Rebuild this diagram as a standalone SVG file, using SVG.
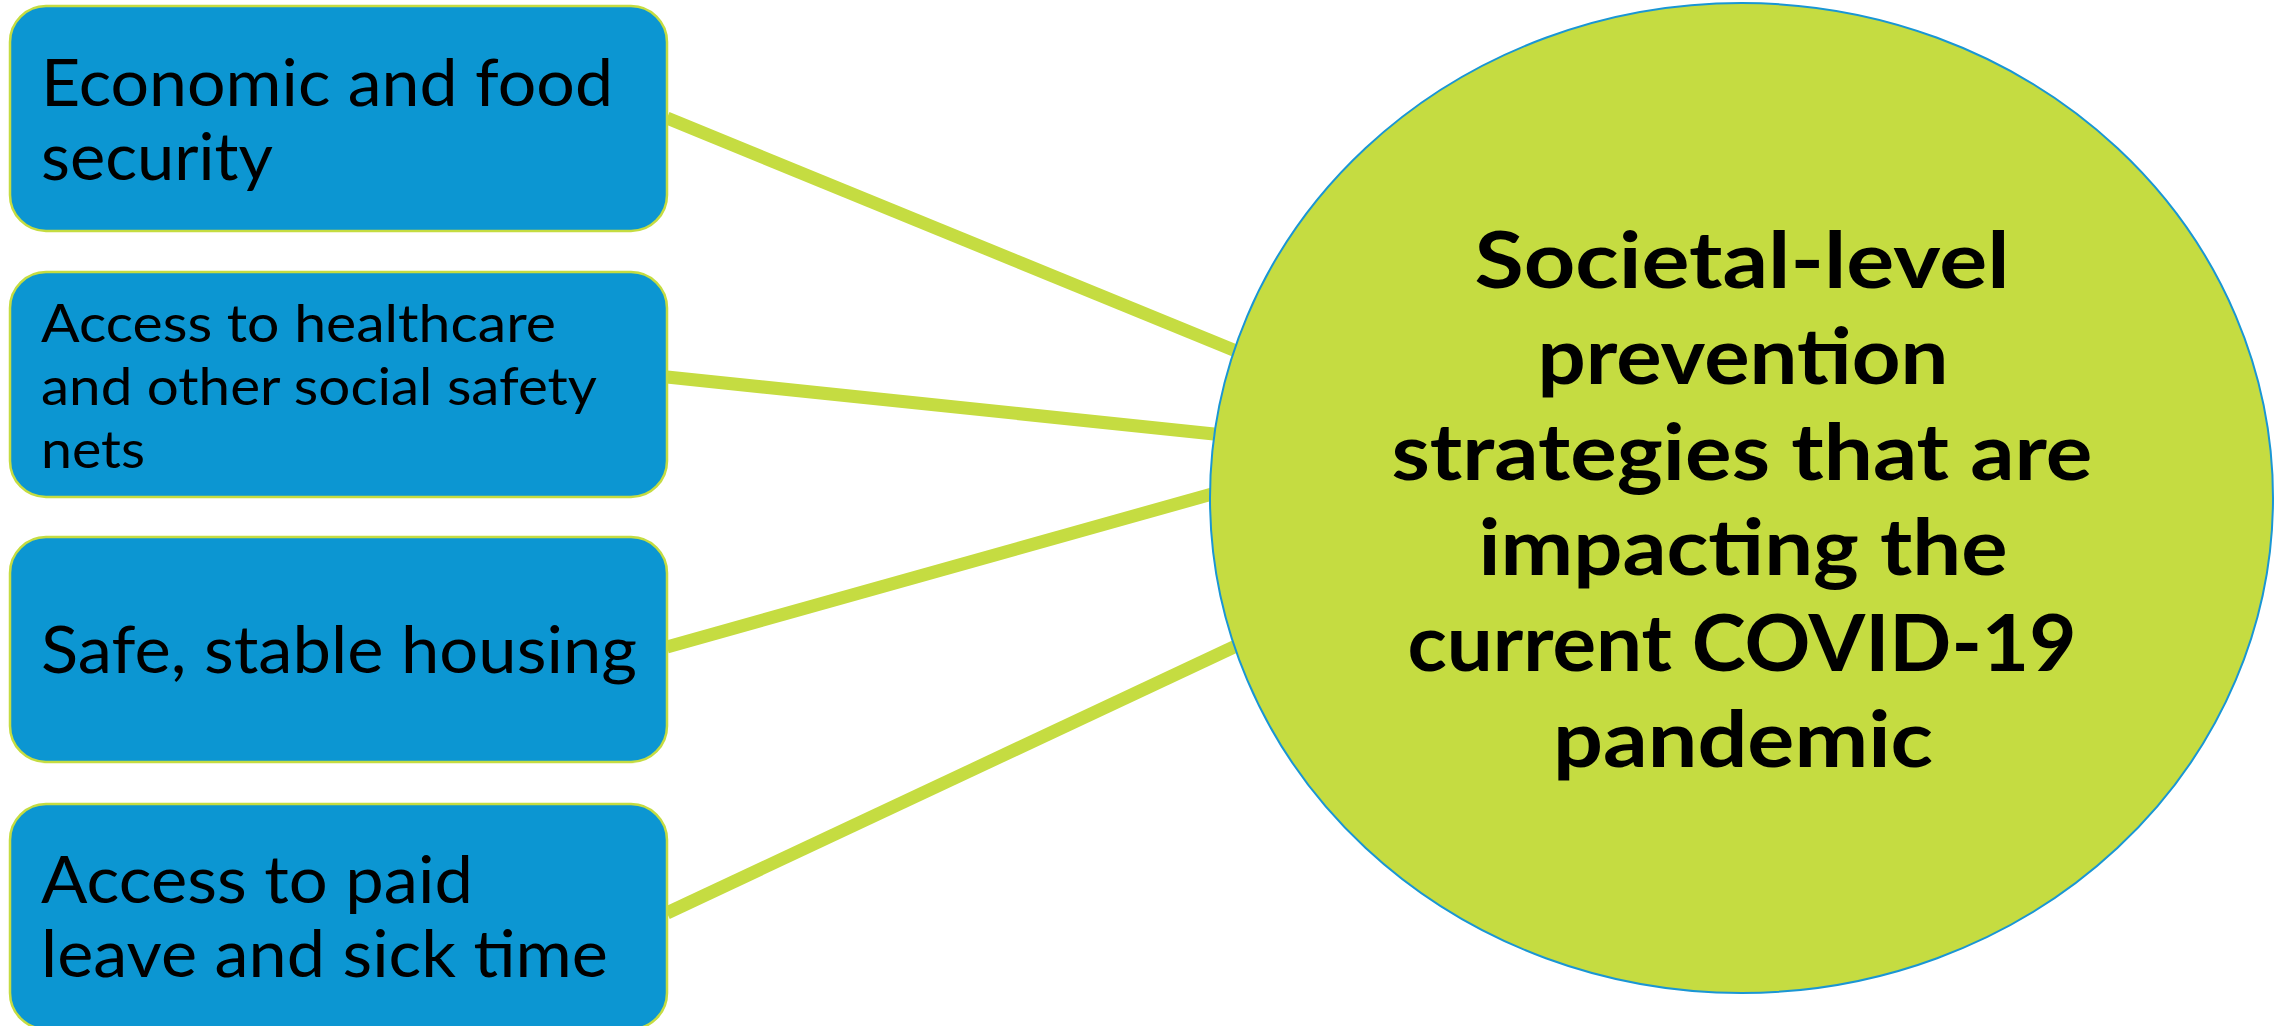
<svg xmlns="http://www.w3.org/2000/svg" width="2290" height="1026" viewBox="0 0 2290 1026">
  <style>
    .box { fill: #0C96D2; stroke: #C5DC41; stroke-width: 2.5; }
    .lbl { font-family: "Lato", "Liberation Sans", sans-serif; fill: #000; }
    .big { font-size: 66px; }
    .small { font-size: 53px; }
    .conn { stroke: #C5DC41; stroke-width: 13; stroke-linecap: butt; fill: none; }
    .hub { fill: #C5DC41; stroke: #1A96D4; stroke-width: 2; }
    .hubtxt { font-family: "Lato", "Liberation Sans", sans-serif; font-weight: 700; font-size: 79px; fill: #000; text-anchor: middle; }
  </style>
  <rect width="2290" height="1026" fill="#FFFFFF"/>
  <g id="connectors">
    <line class="conn" x1="667" y1="118" x2="1236" y2="351"/>
    <line class="conn" x1="667" y1="377" x2="1214" y2="434"/>
    <line class="conn" x1="667" y1="647" x2="1212" y2="494"/>
    <line class="conn" x1="667" y1="913" x2="1236" y2="646"/>
  </g>
  <g id="node-economic">
    <rect class="box" x="10" y="6" width="657" height="225" rx="36"/>
    <text class="lbl big" x="41" y="106" textLength="572" lengthAdjust="spacingAndGlyphs">Economic and food</text>
    <text class="lbl big" x="41" y="180" textLength="232" lengthAdjust="spacingAndGlyphs">security</text>
  </g>
  <g id="node-healthcare">
    <rect class="box" x="10" y="272" width="657" height="225" rx="36"/>
    <text class="lbl small" x="41" y="342" textLength="515" lengthAdjust="spacingAndGlyphs">Access to healthcare</text>
    <text class="lbl small" x="41" y="405" textLength="556" lengthAdjust="spacingAndGlyphs">and other social safety</text>
    <text class="lbl small" x="41" y="468" textLength="104" lengthAdjust="spacingAndGlyphs">nets</text>
  </g>
  <g id="node-housing">
    <rect class="box" x="10" y="537" width="657" height="225" rx="36"/>
    <text class="lbl big" x="41" y="673" textLength="596" lengthAdjust="spacingAndGlyphs">Safe, stable housing</text>
  </g>
  <g id="node-leave">
    <rect class="box" x="10" y="804" width="657" height="225" rx="36"/>
    <text class="lbl big" x="41" y="903" textLength="432" lengthAdjust="spacingAndGlyphs">Access to paid</text>
    <text class="lbl big" x="41" y="977" textLength="567" lengthAdjust="spacingAndGlyphs">leave and sick time</text>
  </g>
  <g id="node-societal">
    <ellipse class="hub" cx="1741.5" cy="498" rx="531.5" ry="495"/>
    <text class="hubtxt" x="1742" y="288" textLength="535" lengthAdjust="spacingAndGlyphs">Societal-level</text>
    <text class="hubtxt" x="1743" y="384" textLength="411" lengthAdjust="spacingAndGlyphs">prevention</text>
    <text class="hubtxt" x="1742" y="480" textLength="701" lengthAdjust="spacingAndGlyphs">strategies that are</text>
    <text class="hubtxt" x="1743" y="575" textLength="529" lengthAdjust="spacingAndGlyphs">impacting the</text>
    <text class="hubtxt" x="1742" y="671" textLength="669" lengthAdjust="spacingAndGlyphs">current COVID-19</text>
    <text class="hubtxt" x="1743" y="767" textLength="380" lengthAdjust="spacingAndGlyphs">pandemic</text>
  </g>
</svg>
